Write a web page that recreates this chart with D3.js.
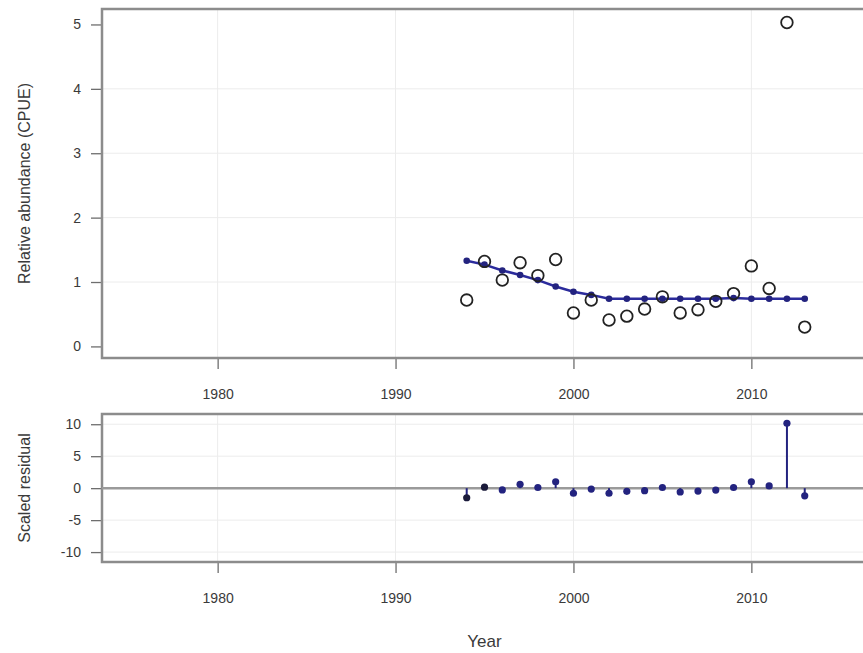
<!DOCTYPE html>
<html>
<head>
<meta charset="utf-8">
<script src="https://cdn.jsdelivr.net/npm/d3@7"></script>
<style>
  html, body { margin: 0; padding: 0; background: #fff; }
  svg { display: block; font-family: "Liberation Sans", Arial, sans-serif; }
</style>
</head>
<body>
<svg id="chart" width="863" height="653"></svg>
<script>
// ---- data ----
const years = [1994,1995,1996,1997,1998,1999,2000,2001,2002,2003,2004,2005,2006,2007,2008,2009,2010,2011,2012,2013];
const observed = [0.72,1.32,1.03,1.30,1.10,1.35,0.52,0.72,0.41,0.47,0.58,0.77,0.52,0.57,0.70,0.82,1.25,0.90,5.03,0.30];
const fitted = [1.33,1.27,1.18,1.11,1.03,0.93,0.85,0.80,0.74,0.74,0.74,0.74,0.74,0.74,0.74,0.75,0.74,0.74,0.74,0.74];
const residuals = [-1.5,0.15,-0.27,0.6,0.1,1.0,-0.8,-0.15,-0.8,-0.5,-0.4,0.1,-0.6,-0.45,-0.3,0.1,1.0,0.35,10.15,-1.2];
const xTicks = [1980,1990,2000,2010];
const topYTicks = [0,1,2,3,4,5];
const botYTicks = [-10,-5,0,5,10];

// ---- layout ----
const svg = d3.select("#chart");
const L = 102, R = 867;
const topP = {t: 9, b: 358};
const botP = {t: 414, b: 562};
const frameCol = "#8c8c8c", gridCol = "#ececec", tickCol = "#6e6e6e", textCol = "#3a3a3a";
const navy = "#23237f";

const x = d3.scaleLinear().domain([1973.5, 2016.5]).range([L, R]);
const yTop = d3.scaleLinear().domain([-0.18, 5.24]).range([topP.b, topP.t]);
const yBot = d3.scaleLinear().domain([-11.55, 11.6]).range([botP.b, botP.t]);
const fmt = d => String(d);

function panel(y, P, yTicks, gridY) {
  const g = svg.append("g");
  // grid
  g.selectAll(".gx").data(xTicks).join("line")
    .attr("x1", d => x(d)).attr("x2", d => x(d))
    .attr("y1", P.t).attr("y2", P.b)
    .attr("stroke", gridCol).attr("stroke-width", 1);
  g.selectAll(".gy").data(gridY).join("line")
    .attr("x1", L).attr("x2", R)
    .attr("y1", d => y(d)).attr("y2", d => y(d))
    .attr("stroke", gridCol).attr("stroke-width", 1);
  // axes
  const ax = g.append("g").attr("transform", `translate(0,${P.b})`)
    .call(d3.axisBottom(x).tickValues(xTicks).tickSize(11).tickPadding(20).tickFormat(fmt));
  const ay = g.append("g").attr("transform", `translate(${L - 1},0)`)
    .call(d3.axisLeft(y).tickValues(yTicks).tickSize(10).tickPadding(10).tickFormat(fmt));
  [ax, ay].forEach(a => {
    a.select(".domain").remove();
    a.selectAll("line").attr("stroke", tickCol).attr("stroke-width", 1.3);
    a.selectAll("text").attr("fill", textCol).style("font-size", "14px")
      .attr("font-family", "'Liberation Sans', Arial, sans-serif");
  });
  // frame
  g.append("rect").attr("x", L).attr("y", P.t).attr("width", R - L).attr("height", P.b - P.t)
    .attr("fill", "none").attr("stroke", frameCol).attr("stroke-width", 2.5);
  return g;
}

const gTop = panel(yTop, topP, topYTicks, [1,2,3,4]);
const gBot = panel(yBot, botP, botYTicks, [-10,-5,5,10]);

// ---- top panel marks ----
const fitLine = d3.line().x((d, i) => x(years[i])).y(d => yTop(d));
gTop.append("path").datum(fitted).attr("d", fitLine)
  .attr("fill", "none").attr("stroke", "#2b2b9c").attr("stroke-width", 2.5);
gTop.selectAll(".fd").data(fitted).join("circle")
  .attr("cx", (d, i) => x(years[i])).attr("cy", d => yTop(d)).attr("r", 3.3)
  .attr("fill", navy);
gTop.selectAll(".ob").data(observed).join("circle")
  .attr("cx", (d, i) => x(years[i])).attr("cy", d => yTop(d)).attr("r", 5.8)
  .attr("fill", "none").attr("stroke", "#222").attr("stroke-width", 1.8);

// ---- bottom panel marks ----
gBot.append("line").attr("x1", L).attr("x2", R).attr("y1", yBot(0)).attr("y2", yBot(0))
  .attr("stroke", "#9a9a9a").attr("stroke-width", 2.5);
gBot.selectAll(".st").data(residuals).join("line")
  .attr("x1", (d, i) => x(years[i])).attr("x2", (d, i) => x(years[i]))
  .attr("y1", yBot(0)).attr("y2", d => yBot(d))
  .attr("stroke", navy).attr("stroke-width", 2);
gBot.selectAll(".rd").data(residuals).join("circle")
  .attr("cx", (d, i) => x(years[i])).attr("cy", d => yBot(d)).attr("r", 3.6)
  .attr("fill", (d, i) => i < 2 ? "#1a1a3a" : navy);

// ---- titles ----
svg.append("text").attr("transform", `translate(30,${(topP.t + topP.b) / 2}) rotate(-90)`)
  .attr("text-anchor", "middle").attr("fill", textCol).style("font-size", "16px")
  .text("Relative abundance (CPUE)");
svg.append("text").attr("transform", `translate(30,${(botP.t + botP.b) / 2}) rotate(-90)`)
  .attr("text-anchor", "middle").attr("fill", textCol).style("font-size", "16px")
  .text("Scaled residual");
svg.append("text").attr("x", x(1995)).attr("y", 647)
  .attr("text-anchor", "middle").attr("fill", textCol).style("font-size", "17px")
  .text("Year");
</script>
</body>
</html>
